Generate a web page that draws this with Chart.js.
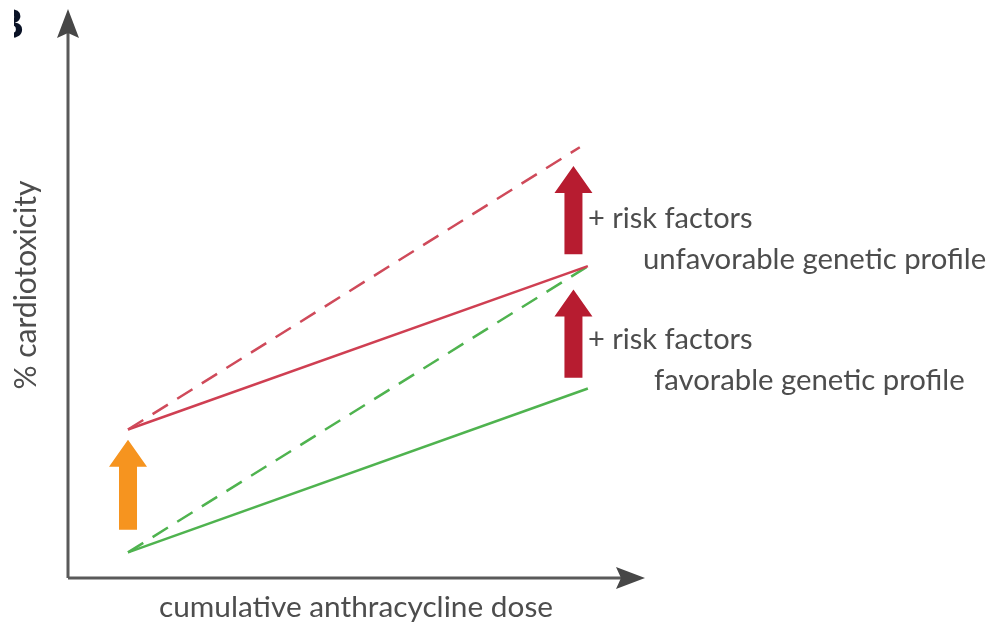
<!DOCTYPE html>
<html>
<head>
<meta charset="utf-8">
<script src="https://cdn.jsdelivr.net/npm/chart.js@4"></script>
<style>
  html, body { margin: 0; padding: 0; background: #fff; }
  #wrap { width: 996px; height: 625px; position: relative; }
</style>
</head>
<body>
<div id="wrap"><canvas id="riskChart" width="996" height="625"></canvas></div>
<script>
// Dose (x) and cardiotoxicity (y) on a 0-100 scale
var lineDose = [10.4, 90.1];
var redSolidRisk = [26.1, 54.8];
var redDashedDose = [10.4, 88.7];
var redDashedRisk = [26.1, 75.7];
var greenSolidRisk = [4.5, 33.3];
var greenDashedRisk = [4.5, 54.8];

// Block arrows: x position, base and tip values
var arrowDose = [10.4, 87.6, 87.6];
var arrowFrom = [8.5, 56.9, 35.2];
var arrowTo = [24.3, 72.4, 50.7];
var arrowColors = ['#f6941f', '#b71c30', '#b71c30'];

// Text labels
var riskLabel = '+ risk factors';
var profileLabels = ['unfavorable genetic profile', 'favorable genetic profile'];
var xTitle = 'cumulative anthracycline dose';
var yTitle = '% cardiotoxicity';

function pts(xs, ys) {
    return xs.map(function (x, i) { return { x: x, y: ys[i] }; });
}

var textFont = 'Lato, "Open Sans", sans-serif';
var textColor = '#4d4d4d';

// Draws the axes with arrowheads, the block arrows and all labels
var decorPlugin = {
    id: 'decor',
    beforeDatasetsDraw: function (chart) {
        var ctx = chart.ctx;
        var xs = chart.scales.x, ys = chart.scales.y;
        var a = chart.chartArea;
        ctx.save();
        // axes
        ctx.strokeStyle = '#5a5a5a';
        ctx.lineWidth = 3;
        ctx.beginPath();
        ctx.moveTo(a.left, a.bottom);
        ctx.lineTo(a.left, a.top + 20);
        ctx.moveTo(a.left, a.bottom);
        ctx.lineTo(a.right - 20, a.bottom);
        ctx.stroke();
        ctx.fillStyle = '#474747';
        ctx.beginPath();
        ctx.moveTo(a.left, a.top);
        ctx.lineTo(a.left - 11, a.top + 29);
        ctx.lineTo(a.left, a.top + 24);
        ctx.lineTo(a.left + 11, a.top + 29);
        ctx.closePath();
        ctx.fill();
        ctx.beginPath();
        ctx.moveTo(a.right, a.bottom);
        ctx.lineTo(a.right - 29, a.bottom - 11);
        ctx.lineTo(a.right - 24, a.bottom);
        ctx.lineTo(a.right - 29, a.bottom + 11);
        ctx.closePath();
        ctx.fill();

        // block arrows
        for (var i = 0; i < arrowDose.length; i++) {
            var cx = xs.getPixelForValue(arrowDose[i]);
            var yb = ys.getPixelForValue(arrowFrom[i]);
            var yt = ys.getPixelForValue(arrowTo[i]);
            var sh = 9, hw = 19, hl = 27;
            ctx.fillStyle = arrowColors[i];
            ctx.beginPath();
            ctx.moveTo(cx, yt);
            ctx.lineTo(cx + hw, yt + hl);
            ctx.lineTo(cx + sh, yt + hl);
            ctx.lineTo(cx + sh, yb);
            ctx.lineTo(cx - sh, yb);
            ctx.lineTo(cx - sh, yt + hl);
            ctx.lineTo(cx - hw, yt + hl);
            ctx.closePath();
            ctx.fill();
        }

        // labels
        ctx.fillStyle = textColor;
        ctx.textBaseline = 'middle';
        ctx.textAlign = 'left';
        ctx.font = '29px ' + textFont;
        ctx.fillText(riskLabel, 588, 219);
        ctx.fillText(riskLabel, 588, 340);
        ctx.font = '29.3px ' + textFont;
        ctx.fillText(profileLabels[0], 643, 260);
        ctx.fillText(profileLabels[1], 654, 381);
        ctx.textAlign = 'center';
        ctx.font = '29.8px ' + textFont;
        ctx.fillText(xTitle, 356, 607);
        ctx.font = '30px ' + textFont;
        ctx.translate(26, 285);
        ctx.rotate(-Math.PI / 2);
        ctx.fillText(yTitle, 0, 0);
        ctx.restore();

        // cropped panel letter
        ctx.save();
        ctx.beginPath();
        ctx.rect(14, 0, 20, 60);
        ctx.clip();
        ctx.fillStyle = '#0a1226';
        ctx.font = 'bold 43px "Liberation Sans", sans-serif';
        ctx.textAlign = 'left';
        ctx.textBaseline = 'alphabetic';
        ctx.fillText('B', -7, 38);
        ctx.restore();
    }
};

document.addEventListener('DOMContentLoaded', function () {
    var ctx = document.getElementById('riskChart').getContext('2d');
    new Chart(ctx, {
        type: 'line',
        data: {
            datasets: [
                { data: pts(redDashedDose, redDashedRisk), borderColor: '#cf4a5a', borderDash: [18, 11] },
                { data: pts(lineDose, redSolidRisk), borderColor: '#cf3f52' },
                { data: pts(lineDose, greenDashedRisk), borderColor: '#4fb34f', borderDash: [18, 11] },
                { data: pts(lineDose, greenSolidRisk), borderColor: '#4fb34f' }
            ]
        },
        options: {
            responsive: false,
            animation: false,
            layout: { padding: { left: 68, right: 351, top: 9, bottom: 47 } },
            elements: {
                point: { radius: 0 },
                line: { borderWidth: 2.5, tension: 0 }
            },
            scales: {
                x: { type: 'linear', min: 0, max: 100, display: false },
                y: { type: 'linear', min: 0, max: 100, display: false }
            },
            plugins: {
                legend: { display: false },
                tooltip: { enabled: false }
            }
        },
        plugins: [decorPlugin]
    });
});
</script>
</body>
</html>
